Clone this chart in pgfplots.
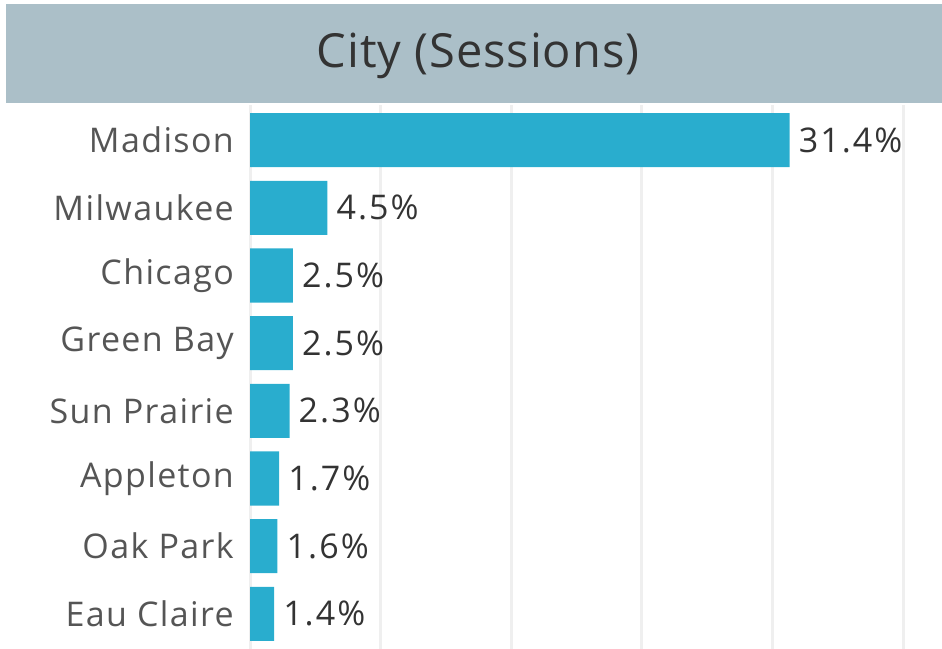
\documentclass[border=0pt]{standalone}
\usepackage{pgfplots}
\pgfplotsset{compat=1.18}
\usepackage{fontspec}
\setmainfont{Open Sans}
\newfontfamily\titlefont[LetterSpace=2.0]{Open Sans}
\newfontfamily\labelfont[LetterSpace=4.0]{Open Sans}
\newfontfamily\valuefont[LetterSpace=6.0]{Open Sans}
\definecolor{barblue}{HTML}{29ADCE}
\definecolor{banner}{HTML}{ABBFC8}
\definecolor{gridc}{HTML}{EFEFEF}
\definecolor{lblgray}{HTML}{555555}
\definecolor{valdark}{HTML}{333333}
\begin{document}
\begin{tikzpicture}[x=1bp,y=1bp]
\path[use as bounding box] (0,0) rectangle (942,649);
\fill[banner] (6,546) rectangle (942,645);
\node[text=valdark, font=\titlefont\fontsize{47bp}{52bp}\selectfont, inner sep=0pt] at (478,593) {City (Sessions)};
\begin{axis}[
  at={(250bp,0bp)}, anchor=south west,
  scale only axis, width=653bp, height=544bp,
  xmin=0, xmax=38, ymin=-0.52, ymax=7.52, y dir=reverse,
  clip=false,
  xbar, bar width=0.8, bar shift=0pt,
  axis line style={draw=none},
  major tick length=0pt,
  xtick={0,7.6,15.2,22.8,30.4,38},
  xticklabels={},
  xmajorgrids, grid style={gridc, line width=3bp},
  ytick={0,...,7},
  yticklabels={Madison,Milwaukee,Chicago,Green Bay,Sun Prairie,Appleton,Oak Park,Eau Claire},
  yticklabel style={font=\labelfont\fontsize{34bp}{38bp}\selectfont, text=lblgray, inner sep=0pt, xshift=-16bp},
  /pgf/number format/assume math mode=true,
  point meta=x,
  nodes near coords={\valuefont\pgfmathprintnumber[fixed,precision=1,fixed zerofill]{\pgfplotspointmeta}\%},
  nodes near coords style={anchor=west, inner sep=0pt, xshift=9bp, font=\valuefont\fontsize{34bp}{38bp}\selectfont, text=valdark},
]
\addplot[fill=barblue, draw=none] coordinates {
(31.4,0) (4.5,1) (2.5,2) (2.5,3) (2.3,4) (1.7,5) (1.6,6) (1.4,7)
};
\end{axis}
\end{tikzpicture}
\end{document}
